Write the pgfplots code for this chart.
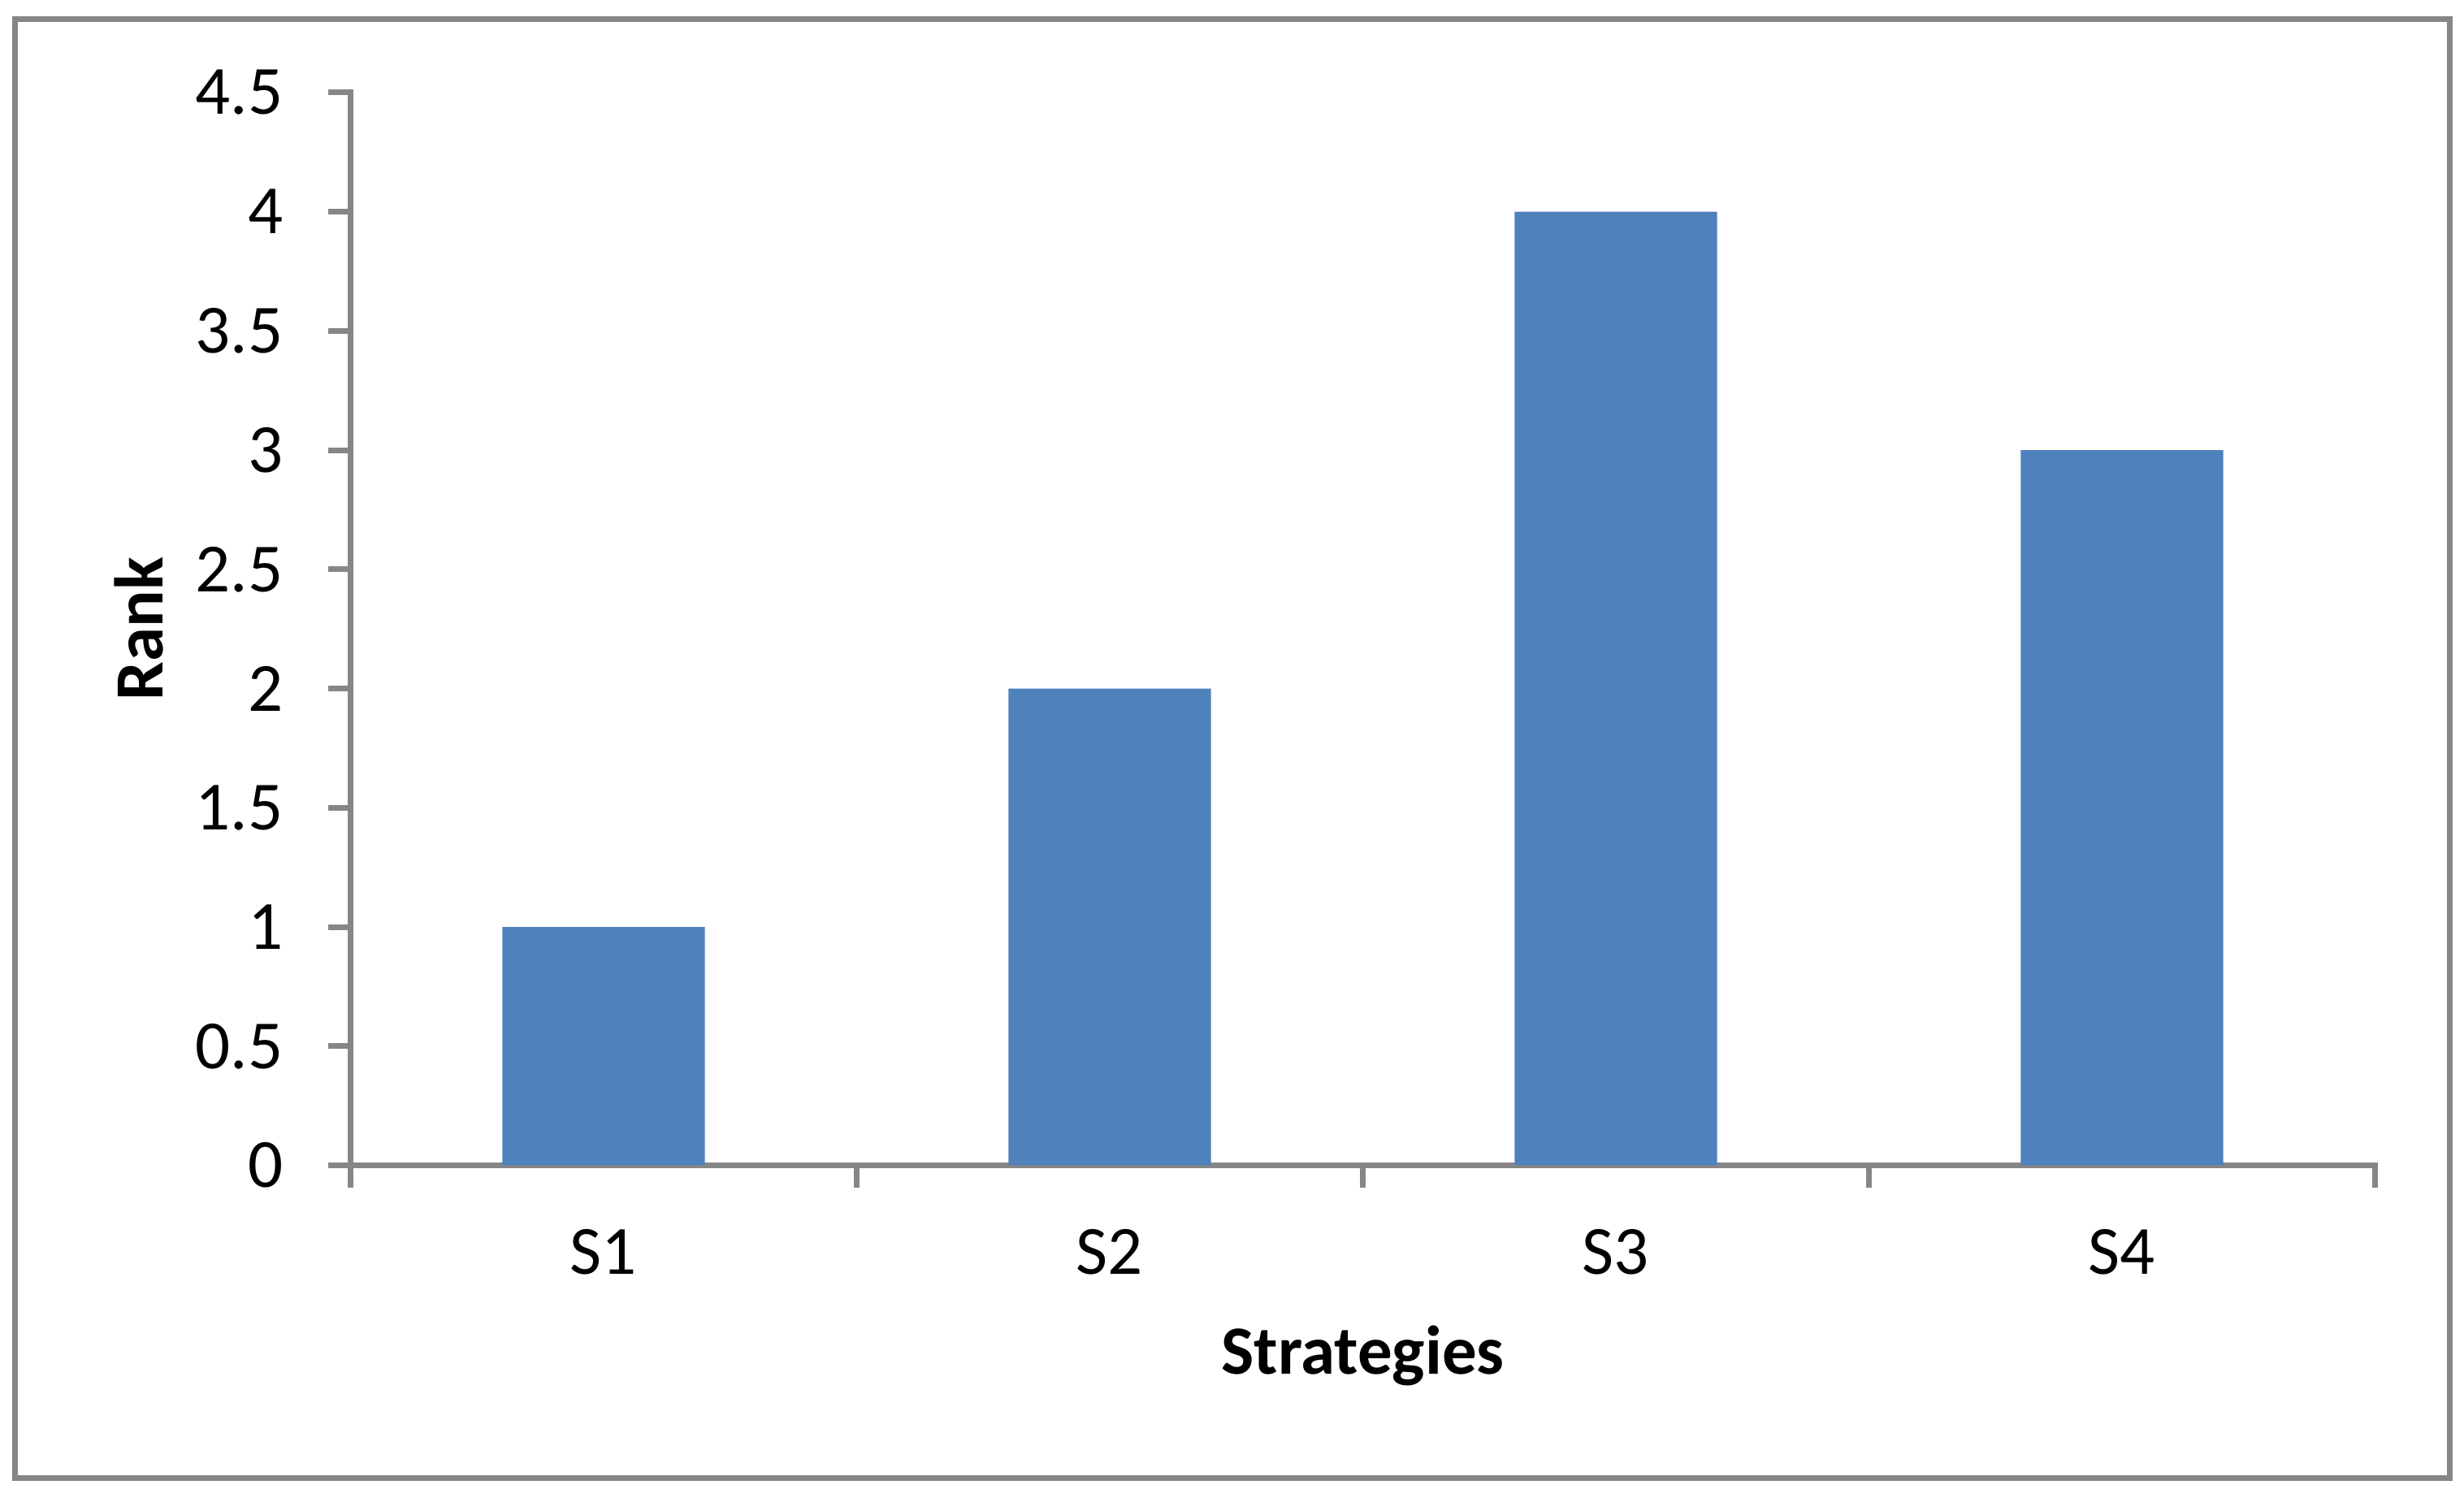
\documentclass[border=0pt]{standalone}
\usepackage{pgfplots}
\pgfplotsset{compat=1.18}
\usepackage{fontspec}
\setmainfont{Carlito}
\definecolor{axgray}{HTML}{868686}
\definecolor{barblue}{HTML}{4F81BD}
\begin{document}
\begin{tikzpicture}
\path[use as bounding box] (0,0) rectangle (363.96pt,221.28pt);
\draw[axgray, line width=0.84pt] (2.16pt,2.88pt) rectangle (361.86pt,218.46pt);
\begin{axis}[
  at={(51.78pt,49.14pt)}, anchor=south west,
  scale only axis, width=299.04pt, height=158.46pt,
  xmin=0.5, xmax=4.5, ymin=0, ymax=4.5,
  axis lines*=left,
  axis line style={axgray, line width=0.84pt, line cap=rect},
  tick align=outside,
  major tick length=3.3pt, minor tick length=3.3pt,
  every tick/.append style={axgray, line width=0.84pt},
  xtick={1,2,3,4}, xticklabels={S1,S2,S3,S4},
  minor xtick={0.5,1.5,2.5,3.5,4.5},
  major x tick style={draw=none},
  ytick={0,0.5,1,1.5,2,2.5,3,3.5,4,4.5},
  yticklabels={0,0.5,1,1.5,2,2.5,3,3.5,4,4.5},
  tick label style={font=\fontsize{10.2}{12}\selectfont, text=black},
  yticklabel style={anchor=east, inner sep=0pt, xshift=-6.48pt},
  xticklabel style={anchor=north, inner sep=0pt, yshift=-6.0pt},
  label style={font=\fontsize{10.2}{12}\selectfont\bfseries},
  xlabel={Strategies},
  xlabel style={at={(axis description cs:0.5,-0.195)}, anchor=base},
  ylabel={Rank},
  ylabel style={at={(axis description cs:-0.0925,0.5)}, anchor=base, rotate=0},
  clip=false,
]
\addplot[ybar, bar width=0.4, fill=barblue, draw=none] coordinates {(1,1) (2,2) (3,4) (4,3)};
\end{axis}
\end{tikzpicture}
\end{document}
